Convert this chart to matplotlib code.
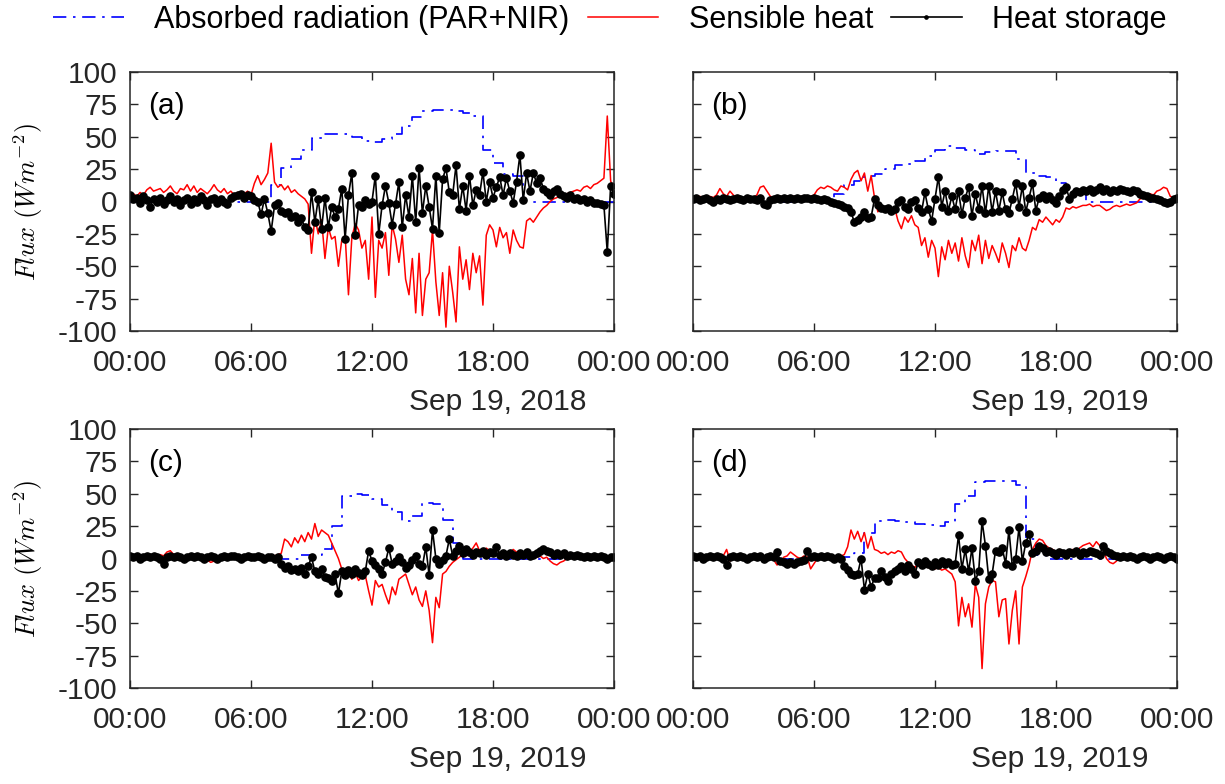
import pandas as pd
import matplotlib.pyplot as plt
import matplotlib.dates as mdates

plt.rcParams['font.family'] = ['Liberation Sans', 'DejaVu Sans']
plt.rcParams['mathtext.fontset'] = 'cm'
plt.rcParams['axes.unicode_minus'] = False

# one day per panel, radiation every 30 min, fluxes every 10 min (W m-2)
days = ['2018-09-19', '2019-09-19', '2019-09-19', '2019-09-19']
date_labels = ['Sep 19, 2018', 'Sep 19, 2019', 'Sep 19, 2019', 'Sep 19, 2019']
panel_labels = ['(a)', '(b)', '(c)', '(d)']

rad_a = [0, 0, 0, 0, 0, 0, 0, 0, 0, 0, 0, 0, 0, 0,
         13, 26, 33, 40, 49, 52, 52, 52, 50, 47, 46, 48, 52, 58, 65, 70, 71, 71, 70, 68, 66, 40, 30, 21, 20,
         0, 0, 0, 0, 0, 0, 0, 0, 0, 0]
rad_b = [0, 0, 0, 0, 0, 0, 0, 0, 0, 0, 0, 0, 0, 0,
         6, 13, 16, 20, 21, 25, 28, 29, 31, 35, 40, 43, 41, 40, 37, 38, 39, 39, 33, 22, 20, 19, 14, 7, 7,
         0, 0, 0, 0, 0, 0, 0, 0, 0, 0]
rad_c = [0, 0, 0, 0, 0, 0, 0, 0, 0, 0, 0, 0, 0, 0, 0, 0,
         0, 3, 3, 7, 25, 48, 50, 49, 46, 41, 36, 29, 33, 43, 42, 30, 12,
         0, 0, 0, 0, 0, 0, 0, 0, 0, 0, 0, 0, 0, 0, 0, 0]
rad_d = [0, 0, 0, 0, 0, 0, 0, 0, 0, 0, 0, 0, 0, 0, 0,
         1, 4, 20, 29, 30, 29, 28, 27, 26, 25, 28, 42, 48, 59, 60, 60, 60, 57, 15, 3,
         0, 0, 0, 0, 0, 0, 0, 0, 0, 0, 0, 0, 0, 0]

sens_a = [5, 6, 4, 7, 5, 9, 11, 8, 9, 10, 7, 9, 12, 8, 6, 10, 9, 13, 8,
          12, 7, 10, 8, 6, 9, 13, 9, 7, 10, 6, 8, 5, 7, 4, 6, 8, 5,
          14, 20, 13, 17, 22, 45, 15, 11, 13, 9, 12, 7, 9, 6, 4, 2, -2, -40,
          -12, -25, -14, -44, -20, -29, -27, -50, -30, -26, -72, -28,
          -17, -22, -36, -30, -60, -12, -74, -30, -36, -24, -57, -18,
          -29, -47, -26, -60, -72, -44, -86, -40, -88, -60, -55, -22,
          -62, -88, -55, -97, -50, -70, -93, -35, -60, -45, -68, -40,
          -55, -42, -80, -26, -18, -22, -35, -20, -28, -24, -40, -22,
          -30, -35, -36, -15, -13, -16, -12, -8, -5, -3, 0, 2,
          3, 5, 4, 6, 7, 8, 9, 8, 11, 12, 10, 13, 14, 16, 18, 66, 16, 7]
stor_a = [5, 2, 3, -1, 4, 1, -4, 2, 0, 3, -2, 1, 4, 0, 2, -3, 1, 3, -2,
          2, 0, 4, 1, -3, 2, 3, -1, 2, 0, -2, 3, 4, 5, 6, 3, 5, 4,
          1, 0, -10, 2, -9, -23, -3, -1, -7, -9, -8, -12, -11, -16, -13, -20, -22, 7,
          -16, 2, -21, 3, -20, -4, -12, -6, 10, -29, 5, 22,
          -26, -3, -4, 1, -2, 0, 20, -25, -3, 12, -1, -18,
          -2, 15, -20, 5, -12, 20, -16, 26, -9, 12, -4, -21,
          20, -24, 17, 26, 7, 5, 28, -6, 12, -7, 20, -3,
          9, 5, 23, 0, 15, 3, 11, 19, 5, 18, 8, -1,
          15, 36, 1, 22, 8, 22, 14, 18, 10, 7, 5, 8,
          10, 6, 4, 3, 5, 2, 3, 1, 2, 0, 1, -1, -1, -2, -3, -39, 12, 6]

sens_b = [3, 2, 4, 3, 2, 4, 3, 5, 10, 6, 4, 8, 5, 3, 4, 2, 3, 4, 3,
          5, 11, 12, 8, 4, 3, 3, 4, 3, 4, 3, 4, 3, 4, 3, 3, 4, 5,
          9, 11, 10, 12, 11, 9, 8, 12, 11, 9, 17, 22, 24, 16, 22, 8, 20, 3,
          -8, -3, -6, -4, -9, -5, -15, -21, -12, -16, -11, -18,
          -20, -34, -28, -43, -30, -36, -58, -35, -45, -30, -40, -32,
          -46, -28, -42, -51, -30, -38, -26, -48, -30, -44, -34, -40,
          -47, -32, -40, -51, -34, -38, -28, -36, -38, -30, -20, -22,
          -14, -16, -12, -15, -18, -14, -16, -12, -5, -6, -4, -5,
          -4, -3, -3, -2, -4, -3, -3, -5, -7, -6, -4, -3,
          -4, -3, -2, -3, -2, -1, 2, 3, 4, 6, 5, 8, 9, 11, 10, 4, 3, 2]
stor_b = [2, 3, 1, 2, 3, 1, 0, 2, 1, 3, 2, 1, 2, 3, 2, 1, 3, 2, 2,
          1, 3, -2, -3, 1, 2, 3, 2, 3, 2, 3, 2, 3, 2, 3, 3, 2, 3,
          2, 1, 2, 1, 0, -1, -2, -3, -4, -5, -8, -16, -14, -12, -8, -13, -12, 2,
          -3, -5, -6, -5, -7, -6, 0, 1, -4, -6, 0, 1,
          -5, -8, 7, -6, -15, 2, 19, -4, 8, -7, 4, -6,
          8, -10, 3, 11, -11, 6, -6, 12, -9, 12, -8, 8,
          -7, 7, -6, -9, 2, 14, -4, 12, -8, 3, 14, -7,
          3, 5, 2, 4, 1, -1, 4, 9, 11, 2, 6, 8,
          7, 9, 8, 10, 7, 9, 11, 8, 10, 7, 9, 8,
          10, 9, 8, 7, 9, 8, 6, 5, 4, 3, 3, 2, 1, 0, -1, 0, 2, 3]

sens_c = [1, 2, 0, 1, 2, 1, 3, 2, 1, 3, 2, 5, 6, 3, 1, 2, 0, 1, 2,
          1, 0, 2, 1, -1, -3, -2, -3, 0, 1, 2, 0, 1, 2, 1, 0, 1, 2,
          1, 0, 1, 2, 1, 2, 2, 3, 4, 15, 13, 9, 16, 12, 18, 13, 20, 15,
          27, 17, 22, 20, 18, 12, 6, 0, -8, -14, -10, -16,
          -11, -17, -14, -13, -25, -36, -17, -22, -20, -28, -35, -22,
          -28, -16, -14, -12, -20, -28, -22, -32, -37, -25, -40, -65,
          -30, -38, -12, -10, -6, -3, -1, 1, 3, 2, 5, 8,
          12, 6, 5, 8, 6, 4, 3, 4, 2, 5, 3, 7,
          5, 2, 1, 2, 1, 0, 1, 2, 0, 1, -2, -4,
          -5, -3, -2, 0, 1, 0, 1, 2, 1, 0, 2, 1, 2, 1, 3, 2, 1, 2]
stor_c = [2, 1, 2, 0, 1, 2, 1, 2, 1, 0, -4, 1, 2, 1, 2, 1, 0, 1, 2,
          1, 2, 1, 0, 1, 2, 1, 0, 1, 2, 1, 2, 2, 1, 0, 1, 2, 1,
          1, 2, 1, 0, 1, 1, 0, 1, -4, -7, -6, -9, -8, -10, -7, -12, -6, 1,
          -10, -12, -8, -14, -15, -17, -12, -27, -10, -13, -9, -12,
          -8, -11, -13, -10, 6, -2, -5, -8, -12, -3, 8, -4,
          -2, 1, -3, -7, -5, -1, 2, -4, -6, 9, -13, 22,
          0, -4, -1, 2, 15, 2, 6, 10, 4, 7, 5, 3,
          5, 4, 6, 3, 5, 4, 9, 3, 4, 2, 4, 3,
          2, 4, 3, 5, 2, 3, 4, 6, 7, 6, 5, 3,
          4, 3, 4, 2, 3, 2, 3, 2, 1, 2, 1, 2, 1, 2, 1, 0, 1, 1]

sens_d = [1, 2, 0, 1, 2, 1, 3, 1, 0, 2, 7, -2, 1, 2, 0, 1, 2, 1, 0,
          1, 2, 0, 1, 2, -1, -5, -3, 1, 2, 5, 3, 1, 0, 2, 1, -8, -4,
          0, 1, 2, 1, 0, 1, 1, 2, 3, 9, 22, 15, 21, 13, 20, 8, 17, 7,
          6, 4, 5, 3, 5, 4, 6, 5, 0, -3, -5, -7,
          -4, -6, -5, -7, -6, -8, -7, -9, -8, -10, -12, -18,
          -52, -30, -45, -35, -53, -20, -30, -85, -35, -22, -17, -18,
          -45, -32, -31, -66, -40, -25, -66, -22, -14, -5, 7, 12,
          15, 14, 10, 8, 7, 5, 7, 6, 5, 6, 7, 5,
          8, 10, 11, 12, 9, 13, 10, 7, 0, -3, -4, -2,
          1, 2, 1, 0, 2, 1, 2, 1, 0, 1, 2, 1, 0, 1, 2, 1, 0, -1]
stor_d = [2, 1, 2, 0, 1, 2, 1, 2, 1, 0, -5, 1, 2, 1, 2, 1, 0, 1, 2,
          1, 2, 0, 1, 2, 1, 5, -2, -3, -4, -3, -4, -3, -2, -1, 6, 1, 2,
          1, 2, 1, 2, 1, 0, 1, 0, -6, -9, -12, -13, -12, 0, -24, -12, -22, -15,
          -15, -10, -14, -17, -12, -10, -8, -6, -10, -5, -8, -12,
          -3, -5, -2, -4, -6, -3, -5, -2, -4, -3, -5, -4,
          18, -8, 7, -10, 8, -17, -10, 29, 10, -16, -12, 6,
          5, 8, -4, 22, -6, 0, 24, -2, 12, 19, 4, 6,
          10, 8, 5, 6, 4, 3, 5, 4, 3, 5, 4, 6,
          3, 5, 4, 6, 5, 4, 3, 10, 6, 4, 3, 2,
          1, 2, 1, 2, 1, 0, 1, 2, 1, 0, 1, 2, 1, 0, 1, 2, 1, 0]

rads = [rad_a, rad_b, rad_c, rad_d]
senss = [sens_a, sens_b, sens_c, sens_d]
stors = [stor_a, stor_b, stor_c, stor_d]

W, H = 1225, 784
grey = '#262626'
# left / top of each axes box in pixels
boxes = [(130, 72), (693, 72), (130, 429), (693, 429)]
date_pos = [(498, 402), (1060, 402), (498, 759), (1060, 759)]

fig = plt.figure(figsize=(W / 100, H / 100), dpi=100)

for i in range(4):
    l, t = boxes[i]
    ax = fig.add_axes([l / W, 1 - (t + 259) / H, 484 / W, 259 / H])
    t10 = pd.date_range(days[i], periods=145, freq='10min')
    t30 = pd.date_range(days[i], periods=49, freq='30min')

    ax.plot(t30, rads[i], color='#0000ff', lw=1.2, ls=(0, (8, 4, 1.5, 4)),
            drawstyle='steps-post', label='Absorbed radiation (PAR+NIR)')
    ax.plot(t10, senss[i], color='#ff0000', lw=1.1, label='Sensible heat')
    ax.plot(t10, stors[i], color='k', lw=1.2, marker='o', ms=5.2,
            label='Heat storage')

    ax.set_xlim(t10[0], t10[-1])
    ax.set_ylim(-100, 100)
    ax.set_yticks(range(-100, 101, 25))
    ax.xaxis.set_major_locator(mdates.HourLocator(byhour=[0, 6, 12, 18]))
    ax.xaxis.set_major_formatter(mdates.DateFormatter('%H:%M'))
    ax.tick_params(direction='in', length=6, width=1, top=True, right=True,
                   labelsize=21.5, colors=grey)
    ax.tick_params(axis='x', pad=13)
    ax.tick_params(axis='y', pad=9)
    if i % 2 == 1:
        ax.tick_params(labelleft=False)
    for s in ax.spines.values():
        s.set_color(grey)
        s.set_linewidth(1.1)

    ax.text(0.037, 0.87, panel_labels[i], transform=ax.transAxes,
            fontsize=21.5, va='center', ha='left')
    cx, cy = date_pos[i]
    fig.text(cx / W, 1 - cy / H, date_labels[i], fontsize=21.5, color=grey,
             ha='center', va='center')
    if i % 2 == 0:
        fig.text(28 / W, 1 - (t + 130) / H, r'$Flux\ (Wm^{-2})$', fontsize=19,
                 rotation=90, ha='center', va='center', color='k')
    if i == 0:
        handles, labels = ax.get_legend_handles_labels()

fig.legend(handles, labels, loc='center', bbox_to_anchor=(610 / W, 1 - 20 / H),
           ncol=3, frameon=False, fontsize=22, handlelength=2.3,
           handletextpad=1.0, columnspacing=0.6, markerscale=0.45)

fig.savefig('out.png', dpi=100)
